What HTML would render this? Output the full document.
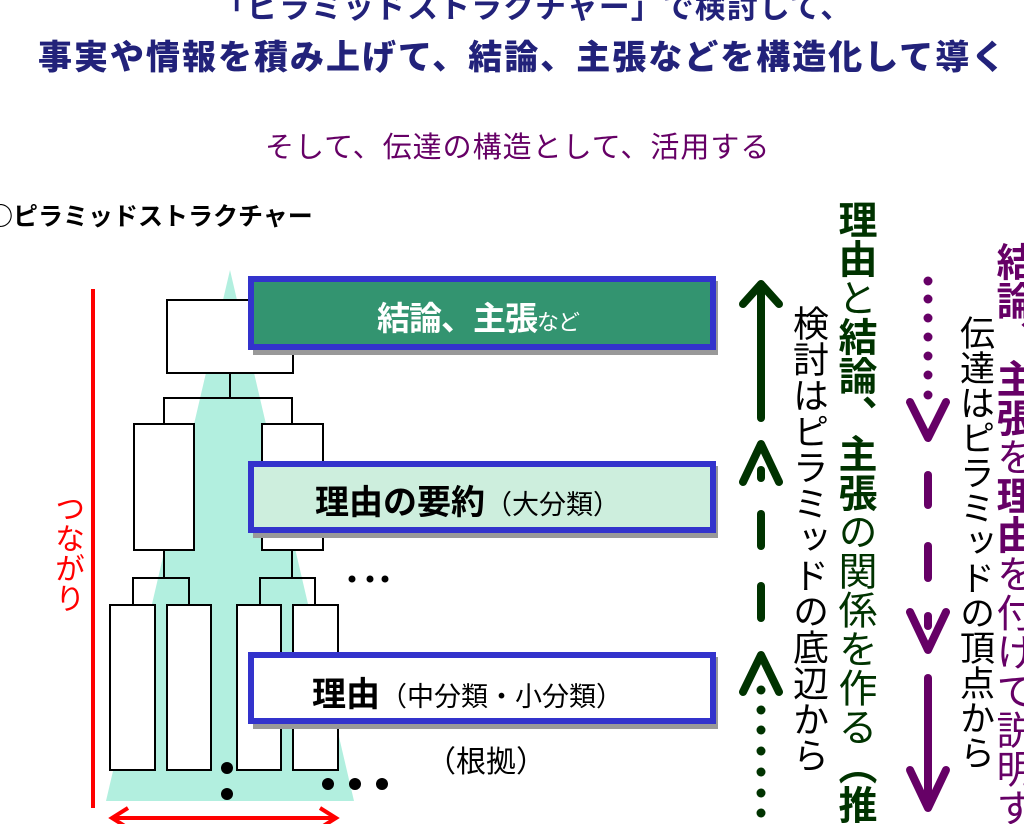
<!DOCTYPE html>
<html><head><meta charset="utf-8"><style>
html,body{margin:0;padding:0;background:#fff;width:1024px;height:824px;overflow:hidden;}
body{font-family:"Liberation Sans","Noto Sans CJK JP",sans-serif;}
#w{position:absolute;left:0;top:0;width:1024px;height:824px;overflow:hidden;}
.a{position:absolute;white-space:nowrap;}
.v{position:absolute;writing-mode:vertical-rl;line-height:1;white-space:nowrap;}
b{font-weight:bold;}
</style></head><body><div id="w">
<div class="a" style="left:215px;top:-18px;font-size:31px;font-weight:bold;color:#22227a;letter-spacing:1px;">「ピラミッドストラクチャー」で検討して、</div>
<div class="a" style="left:38px;top:30px;font-size:34px;font-weight:900;color:#22227a;letter-spacing:2px;">事実や情報を積み上げて、結論、主張などを構造化して導く</div>
<div class="a" style="left:265px;top:124px;font-size:29px;color:#660066;letter-spacing:1px;">そして、伝達の構造として、活用する</div>
<div class="a" style="left:-12px;top:197px;font-size:25px;font-weight:bold;color:#000;font-family:'Noto Sans CJK JP',sans-serif;">○ピラミッドストラクチャー</div>

<svg class="a" style="left:0;top:0" width="1024" height="824">
  <polygon points="230,270 106,801 354,801" fill="#b2efdf"/>
  <line x1="93" y1="289" x2="93" y2="808" stroke="#f00" stroke-width="4"/>
  <line x1="112" y1="818" x2="336" y2="818" stroke="#f00" stroke-width="4"/>
  <polyline points="128,808 112,818 128,828" fill="none" stroke="#f00" stroke-width="4"/>
  <polyline points="320,808 336,818 320,828" fill="none" stroke="#f00" stroke-width="4"/>
  <g fill="#fff" stroke="#000" stroke-width="2">
    <rect x="167" y="300" width="126" height="73"/>
    <rect x="134" y="424" width="60" height="126"/>
    <rect x="262" y="424" width="61" height="126"/>
    <rect x="110" y="605" width="45" height="165"/>
    <rect x="167" y="605" width="44" height="165"/>
    <rect x="237" y="605" width="44" height="165"/>
    <rect x="293" y="605" width="45" height="165"/>
  </g>
  <g fill="none" stroke="#000" stroke-width="2">
    <polyline points="230,373 230,398"/>
    <polyline points="164,424 164,398 292,398 292,424"/>
    <polyline points="164,550 164,578"/>
    <polyline points="133,605 133,578 189,578 189,605"/>
    <polyline points="292,550 292,578"/>
    <polyline points="260,605 260,578 315,578 315,605"/>
  </g>
  <g fill="#000">
    <circle cx="352" cy="579" r="3.5"/><circle cx="370" cy="579" r="3.5"/><circle cx="385" cy="579" r="3.5"/>
    <circle cx="227" cy="768" r="6"/><circle cx="227" cy="794" r="6"/>
    <circle cx="328" cy="784" r="6"/><circle cx="355" cy="784" r="6"/><circle cx="382" cy="784" r="6"/>
  </g>
  <rect x="253" y="281" width="465" height="74" fill="#999"/>
  <rect x="251" y="279" width="462" height="68" fill="#339470" stroke="#3333cc" stroke-width="6"/>
  <rect x="253" y="466" width="465" height="72" fill="#999"/>
  <rect x="251" y="464" width="462" height="66" fill="#cdeedd" stroke="#3333cc" stroke-width="6"/>
  <rect x="253" y="657" width="465" height="72" fill="#999"/>
  <rect x="251" y="655" width="462" height="66" fill="#fff" stroke="#3333cc" stroke-width="6"/>
  <g stroke="#003300" stroke-width="8" stroke-linecap="round" stroke-linejoin="round" fill="none">
    <line x1="761" y1="286" x2="761" y2="418"/>
    <polyline points="743,304 761,284 779,304"/>
    <polyline points="743,482 761,444 779,482"/>
    <line x1="761" y1="470" x2="761" y2="478"/>
    <line x1="761" y1="514" x2="761" y2="546"/>
    <line x1="761" y1="586" x2="761" y2="618"/>
    <polyline points="743,692 761,655 779,692"/>
  </g>
  <g fill="#003300">
    <circle cx="761" cy="690" r="4.5"/><circle cx="761" cy="710" r="4.5"/><circle cx="761" cy="730" r="4.5"/>
    <circle cx="761" cy="751" r="4.5"/><circle cx="761" cy="772" r="4.5"/><circle cx="761" cy="793" r="4.5"/><circle cx="761" cy="813" r="4.5"/>
  </g>
  <g stroke="#660066" stroke-width="8" stroke-linecap="round" stroke-linejoin="round" fill="none">
    <polyline points="910,402 928,438 946,402"/>
    <line x1="928" y1="475" x2="928" y2="505"/>
    <line x1="928" y1="546" x2="928" y2="578"/>
    <polyline points="910,612 928,650 946,612"/>
    <line x1="928" y1="616" x2="928" y2="626"/>
    <line x1="928" y1="678" x2="928" y2="806"/>
    <polyline points="910,770 928,808 946,770"/>
  </g>
  <g fill="#660066">
    <circle cx="928" cy="281" r="4.5"/><circle cx="928" cy="299" r="4.5"/><circle cx="928" cy="318" r="4.5"/>
    <circle cx="928" cy="337" r="4.5"/><circle cx="928" cy="356" r="4.5"/><circle cx="928" cy="375" r="4.5"/><circle cx="928" cy="395" r="4.5"/>
  </g>
</svg>

<div class="a" style="left:377px;top:292px;font-size:33px;font-weight:bold;color:#fff;letter-spacing:-1px;">結論、主張<span style="font-size:22px;font-weight:normal;">など</span></div>
<div class="a" style="left:315px;top:475px;font-size:34px;font-weight:bold;color:#000;">理由の要約<span style="font-size:27px;font-weight:normal;">（大分類）</span></div>
<div class="a" style="left:312px;top:667px;font-size:34px;font-weight:bold;color:#000;">理由<span style="font-size:27px;font-weight:normal;">（中分類・小分類）</span></div>
<div class="a" style="left:426px;top:737px;font-size:30px;color:#000;">（根拠）</div>

<div class="v" style="left:51px;top:493px;font-size:30px;color:#f00;">つながり</div>

<div class="v" style="left:835px;top:200px;font-size:39px;color:#003300;"><b>理由</b>と<b>結論、主張</b>の関係を作る<b>（推論</b></div>
<div class="v" style="left:790px;top:305px;font-size:36px;color:#000;">検討はピラミッドの底辺から</div>
<div class="v" style="left:957px;top:315px;font-size:35px;color:#000;">伝達はピラミッドの頂点から</div>
<div class="v" style="left:993px;top:242px;font-size:39px;color:#660066;"><b>結論、主張</b>を<b>理由</b>を付けて説明する</div>
</div></body></html>
